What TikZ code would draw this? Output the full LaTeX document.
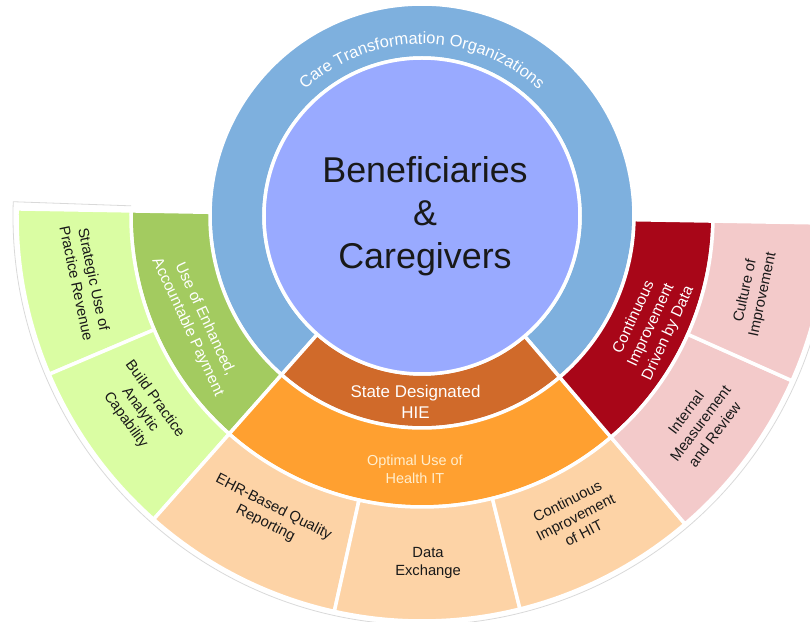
\documentclass[tikz,border=0pt]{standalone}
\usepackage{fontspec}
\setmainfont{Liberation Sans}
\usepackage{tikz}
\usetikzlibrary{decorations.text}
\definecolor{benefit}{RGB}{153,170,255}
\definecolor{ctoblue}{RGB}{126,176,222}
\definecolor{hiebrown}{RGB}{208,106,42}
\definecolor{hitorange}{RGB}{255,160,48}
\definecolor{hitpeach}{RGB}{253,211,166}
\definecolor{paydkgreen}{RGB}{163,203,96}
\definecolor{payltgreen}{RGB}{218,253,163}
\definecolor{datared}{RGB}{168,6,24}
\definecolor{datapink}{RGB}{243,202,202}
\definecolor{optcream}{RGB}{255,238,205}
\newcommand{\lblfont}{\fontsize{14.8}{18}\selectfont}
\newcommand{\inlblfont}{\fontsize{15.5}{19}\selectfont}
\newcommand{\ctofont}{\fontsize{16.5}{16.5}\selectfont}
% colour, start angle, end angle, inner radius, outer radius
\newcommand{\ringpart}[5]{\filldraw[part, fill=#1] (#2:#4) arc[start angle=#2, end angle=#3, radius=#4] -- (#3:#5) arc[start angle=#3, end angle=#2, radius=#5] -- cycle;}

\begin{document}
\begin{tikzpicture}[x=1bp, y=1bp]
\tikzstyle{part}=[draw=white, line width=3.5bp, line join=round]
\tikzstyle{lbl}=[align=center, text=black!90, font=\lblfont, inner sep=0pt]
\tikzstyle{inlbl}=[lbl, text=white, font=\inlblfont]
\tikzstyle{ctotext}=[decorate, decoration={text along path, text={|\ctofont|Care Transformation Organizations}, text align=center, text color=white}]

  \useasboundingbox (-422,-406) rectangle (388,216);
  \clip (-422,-406) rectangle (388,216);

  % faint rim round the outer ring
  \draw[black!15, line width=0.8bp] (178:291) -- (178:409) arc[start angle=178, end angle=360, radius=409];

  \ringpart{ctoblue}{-49.5}{228.5}{158}{212}
  \ringpart{hiebrown}{228.5}{310.5}{158}{212}
  \filldraw[part, fill=benefit] (0,0) circle[radius=158];

  \ringpart{paydkgreen}{179}{228.5}{212}{291}
  \ringpart{hitorange}{228.5}{310.5}{212}{291}
  \ringpart{datared}{310.5}{359}{212}{291}

  \ringpart{payltgreen}{179}{203}{291}{405}
  \ringpart{payltgreen}{203}{228.5}{291}{405}
  \ringpart{hitpeach}{228.5}{257.5}{291}{405}
  \ringpart{hitpeach}{257.5}{284}{291}{405}
  \ringpart{hitpeach}{284}{310.5}{291}{405}
  \ringpart{datapink}{310.5}{336}{291}{405}
  \ringpart{datapink}{336}{359}{291}{405}

  \node[lbl, font=\fontsize{36}{43}\selectfont] (benef) at (3,0) {Beneficiaries\\\&\\Caregivers};

  \path[ctotext] (151:172) arc[start angle=151, end angle=29, radius=172];

  \node[inlbl, font=\fontsize{17}{21}\selectfont] (hie) at (268:186) {State Designated\\HIE};
  \node[inlbl, text=optcream, font=\fontsize{14.5}{18}\selectfont] (hit) at (268.4:253) {Optimal Use of\\Health IT};
  \node[inlbl, rotate=-65] (pay) at (205.4:250) {Use of Enhanced,\\Accountable Payment};
  \node[inlbl, rotate=65] (data) at (334.5:254) {Continuous\\Improvement\\Driven by Data};

  \node[lbl, rotate=-78] (revenue) at (191:343) {Strategic Use of\\Practice Revenue};
  \node[lbl, rotate=-54] (analytic) at (214.5:342) {Build Practice\\Analytic\\Capability};
  \node[lbl, rotate=-27] (ehr) at (243:336) {EHR-Based Quality\\Reporting};
  \node[lbl] (exchange) at (271:347) {Data\\Exchange};
  \node[lbl, rotate=27] (imphit) at (297:338) {Continuous\\Improvement\\of HIT};
  \node[lbl, rotate=53] (review) at (323.3:347) {Internal\\Measurement\\and Review};
  \node[lbl, rotate=78] (culture) at (347:341) {Culture of\\Improvement};

\end{tikzpicture}
\end{document}
